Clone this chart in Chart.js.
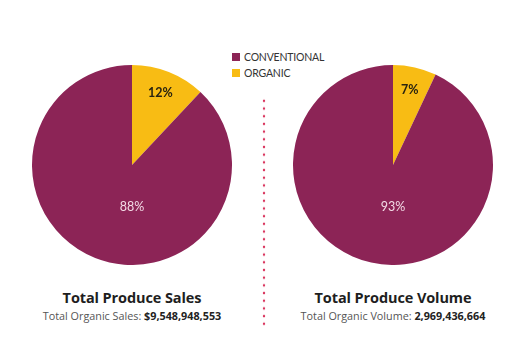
<!DOCTYPE html>
<html>
<head>
<meta charset="utf-8">
<script src="https://cdn.jsdelivr.net/npm/chart.js@4.4.1/dist/chart.umd.min.js"></script>
<style>
  html, body { margin: 0; padding: 0; background: #fff; }
  body { width: 520px; height: 342px; position: relative; overflow: hidden; font-family: "Lato", "Noto Sans", sans-serif; }
  .pie { position: absolute; top: 65px; width: 200px; height: 200px; }
  #salesBox { left: 32px; }
  #volumeBox { left: 293px; }
  .legend { position: absolute; left: 232px; top: 49px; font-size: 10.5px; color: #333; line-height: 16px; letter-spacing: -0.2px; }
  .legend span.sw { display: inline-block; width: 8px; height: 8px; margin-right: 4px; vertical-align: -0px; }
  .divider { position: absolute; left: 262px; top: 97px; width: 4px; height: 232px;
    background-image: radial-gradient(circle, #d9375f 1.2px, transparent 1.6px);
    background-size: 4px 7.7px; }
  .caption { position: absolute; top: 288px; width: 240px; text-align: center; color: #1e1e1e; font-family: "Open Sans", "Lato", sans-serif; }
  .caption .title { font-size: 14.5px; font-weight: 700; letter-spacing: -0.1px; line-height: 20px; }
  .caption .sub { font-size: 10.8px; color: #555; margin-top: 0px; line-height: 16px; }
  .caption .sub b { color: #222; }
  #salesCap { left: 12px; }
  #volumeCap { left: 273px; }
</style>
</head>
<body>
<div class="legend" id="legend"></div>
<div class="divider"></div>
<div class="pie" id="salesBox"><canvas id="salesChart"></canvas></div>
<div class="pie" id="volumeBox"><canvas id="volumeChart"></canvas></div>
<div class="caption" id="salesCap">
  <div class="title">Total Produce Sales</div>
  <div class="sub">Total Organic Sales: <b>$9,548,948,553</b></div>
</div>
<div class="caption" id="volumeCap">
  <div class="title">Total Produce Volume</div>
  <div class="sub">Total Organic Volume: <b>2,969,436,664</b></div>
</div>
<script>
// share of total produce, organic first so it sits at 12 o'clock going clockwise
const categories = ["ORGANIC", "CONVENTIONAL"];
const salesShare = [12, 88];
const volumeShare = [7, 93];
const sliceColors = ["#f8bc14", "#8c2456"];
const labelColors = ["#2a2410", "#f3dbe6"];
const legendOrder = ["CONVENTIONAL", "ORGANIC"];

// legend
const legend = document.getElementById("legend");
legendOrder.forEach(name => {
  const i = categories.indexOf(name);
  const row = document.createElement("div");
  row.innerHTML = '<span class="sw" style="background:' + sliceColors[i] + '"></span>' + name;
  legend.appendChild(row);
});

// percentage labels: small slice out near the rim, big slice below the centre
const sliceLabels = {
  id: "sliceLabels",
  afterDatasetsDraw(chart) {
    const ctx = chart.ctx;
    const meta = chart.getDatasetMeta(0);
    const data = chart.data.datasets[0].data;
    ctx.save();
    ctx.textAlign = "center";
    ctx.textBaseline = "middle";
    meta.data.forEach((arc, i) => {
      const p = arc.getProps(["x", "y", "startAngle", "endAngle", "outerRadius"], true);
      let x, y;
      if (data[i] < 50) {
        const mid = (p.startAngle + p.endAngle) / 2;
        x = p.x + Math.cos(mid) * p.outerRadius * 0.77;
        y = p.y + Math.sin(mid) * p.outerRadius * 0.77;
        ctx.font = "700 12.5px Lato, sans-serif";
      } else {
        x = p.x;
        y = p.y + p.outerRadius * 0.42;
        ctx.font = "400 12.5px Lato, sans-serif";
      }
      ctx.fillStyle = labelColors[i];
      ctx.fillText(data[i] + "%", x, y);
    });
    ctx.restore();
  }
};

function makePie(canvasId, values) {
  return new Chart(document.getElementById(canvasId), {
    type: "pie",
    data: {
      labels: categories,
      datasets: [{
        data: values,
        backgroundColor: sliceColors,
        borderWidth: 0
      }]
    },
    options: {
      responsive: true,
      maintainAspectRatio: false,
      animation: false,
      layout: { padding: 0 },
      plugins: {
        legend: { display: false },
        tooltip: { enabled: false }
      }
    },
    plugins: [sliceLabels]
  });
}

makePie("salesChart", salesShare);
makePie("volumeChart", volumeShare);
</script>
</body>
</html>
